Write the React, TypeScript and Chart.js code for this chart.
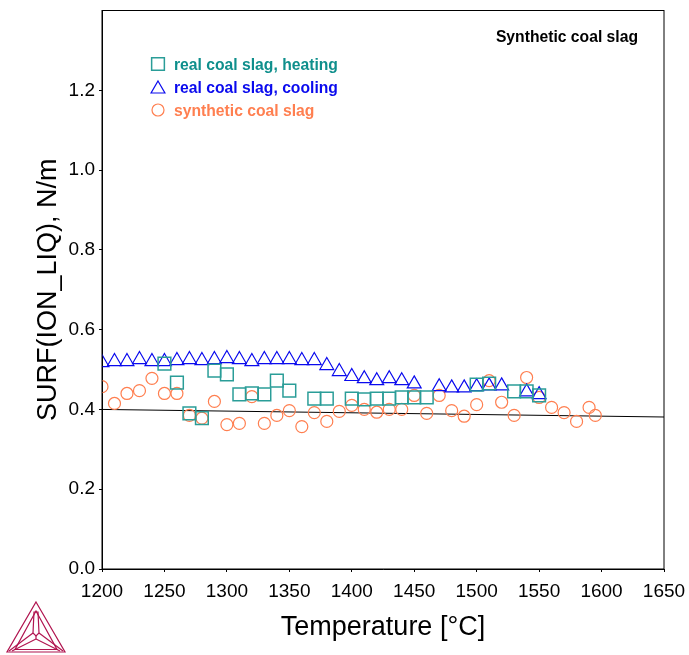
import React, { useEffect, useRef } from "react";
import { Chart, registerables } from "chart.js";

Chart.register(...registerables);

const heatingT = [1250, 1260, 1270, 1280, 1290, 1300, 1310, 1320, 1330, 1340, 1350, 1370, 1380, 1400, 1410, 1420, 1430, 1440, 1450, 1460, 1500, 1510, 1530, 1540, 1550];
const heatingS = [0.515, 0.467, 0.39, 0.378, 0.497, 0.488, 0.438, 0.44, 0.438, 0.472, 0.447, 0.427, 0.427, 0.427, 0.425, 0.427, 0.427, 0.43, 0.43, 0.43, 0.462, 0.465, 0.445, 0.445, 0.435];

const coolingT = [1200, 1210, 1220, 1230, 1240, 1250, 1260, 1270, 1280, 1290, 1300, 1310, 1320, 1330, 1340, 1350, 1360, 1370, 1380, 1390, 1400, 1410, 1420, 1430, 1440, 1450, 1470, 1480, 1490, 1500, 1510, 1520, 1540, 1550];
const coolingS = [0.5175, 0.52, 0.52, 0.525, 0.52, 0.52, 0.5225, 0.525, 0.5225, 0.525, 0.5275, 0.525, 0.52, 0.525, 0.525, 0.525, 0.5225, 0.5225, 0.51, 0.495, 0.4825, 0.477, 0.472, 0.477, 0.472, 0.464, 0.457, 0.454, 0.454, 0.457, 0.459, 0.459, 0.444, 0.437];

const syntheticT = [1200, 1210, 1220, 1230, 1240, 1250, 1260, 1270, 1280, 1290, 1300, 1310, 1320, 1330, 1340, 1350, 1360, 1370, 1380, 1390, 1400, 1410, 1420, 1430, 1440, 1450, 1460, 1470, 1480, 1490, 1500, 1510, 1520, 1530, 1540, 1550, 1560, 1570, 1580, 1590, 1595];
const syntheticS = [0.457, 0.415, 0.44, 0.447, 0.478, 0.44, 0.44, 0.385, 0.378, 0.42, 0.362, 0.365, 0.432, 0.365, 0.385, 0.397, 0.357, 0.392, 0.37, 0.395, 0.41, 0.4, 0.393, 0.4, 0.4, 0.435, 0.39, 0.435, 0.397, 0.383, 0.412, 0.472, 0.418, 0.385, 0.48, 0.43, 0.405, 0.392, 0.37, 0.405, 0.385];

const calcT = [1200, 1650];
const calcS = [0.4, 0.381];

const xTitle = "Temperature [°C]";
const yTitle = "SURF(ION_LIQ), N/m";
const note = "Synthetic coal slag";

const TEAL = "#2a9d98";
const TEAL_TEXT = "#0f8f8c";
const BLUE = "#0a0aee";
const CORAL = "#ff7f50";
const FONT = "'Liberation Sans', Arial, sans-serif";

const pts = (xs: number[], ys: number[]) => xs.map((x, i) => ({ x, y: ys[i] }));

const legendItems = [
  { dataset: 0, textColor: TEAL_TEXT, y: 65 },
  { dataset: 1, textColor: BLUE, y: 88 },
  { dataset: 2, textColor: CORAL, y: 111 },
];

const framePlugin = {
  id: "frame",
  afterDatasetsDraw(chart: any) {
    const { ctx, chartArea: a } = chart;
    ctx.save();
    ctx.strokeStyle = "#000";
    ctx.lineWidth = 1;
    ctx.strokeRect(a.left, a.top, a.right - a.left, a.bottom - a.top);
    ctx.restore();
  },
  afterDraw(chart: any) {
    const { ctx } = chart;
    ctx.save();
    ctx.font = `bold 15.7px ${FONT}`;
    ctx.textBaseline = "middle";
    ctx.fillStyle = "#000";
    ctx.textAlign = "right";
    ctx.fillText(note, 638, 38);
    ctx.textAlign = "left";
    legendItems.forEach((it) => {
      const ds = chart.data.datasets[it.dataset];
      ctx.fillStyle = it.textColor;
      ctx.font = `bold 15.7px ${FONT}`;
      ctx.fillText(ds.label, 174, it.y + 1);
      ctx.strokeStyle = ds.borderColor;
      ctx.lineWidth = ds.pointBorderWidth;
      ctx.beginPath();
      const cx = 158;
      const cy = it.y - 1;
      const r = ds.pointRadius;
      if (ds.pointStyle === "rect") {
        const s = r / Math.SQRT2;
        ctx.rect(cx - s, cy - s, 2 * s, 2 * s);
      } else if (ds.pointStyle === "triangle") {
        ctx.moveTo(cx, cy - r + 2);
        ctx.lineTo(cx + r * 0.866, cy + r / 2 + 2);
        ctx.lineTo(cx - r * 0.866, cy + r / 2 + 2);
        ctx.closePath();
      } else {
        ctx.arc(cx, cy, r, 0, Math.PI * 2);
      }
      ctx.stroke();
    });
    ctx.restore();
  },
};

function Logo() {
  const c = "#b0144f";
  return (
    <svg width={70} height={65} viewBox="0 0 70 65" style={{ position: "absolute", left: 0, top: 590 }}>
      <g fill="none" stroke={c} strokeWidth={1.2}>
        <polygon points="36,12 65,62 7,62" />
        <polygon points="36,21 57,59.5 15,59.5" />
        <polygon points="34,22 38,22 39,43 36,46 33,43" />
        <line x1="33" y1="43" x2="9" y2="61" />
        <line x1="36" y1="46" x2="36" y2="49" />
        <line x1="39" y1="43" x2="63" y2="61" />
        <line x1="36" y1="49" x2="12" y2="61" />
        <line x1="36" y1="49" x2="60" y2="61" />
      </g>
    </svg>
  );
}

export default function App() {
  const ref = useRef<HTMLCanvasElement>(null);
  useEffect(() => {
    const chart = new Chart(ref.current!, {
      type: "scatter",
      data: {
        datasets: [
          { label: "real coal slag, heating", data: pts(heatingT, heatingS), pointStyle: "rect", pointRadius: 9, pointBorderWidth: 1.5, borderColor: TEAL, backgroundColor: "rgba(0,0,0,0)", showLine: false },
          { label: "real coal slag, cooling", data: pts(coolingT, coolingS), pointStyle: "triangle", pointRadius: 8, pointBorderWidth: 1.2, borderColor: BLUE, backgroundColor: "rgba(0,0,0,0)", showLine: false },
          { label: "synthetic coal slag", data: pts(syntheticT, syntheticS), pointStyle: "circle", pointRadius: 6, pointBorderWidth: 1.2, borderColor: CORAL, backgroundColor: "rgba(0,0,0,0)", showLine: false },
          { label: "calculated", data: pts(calcT, calcS), pointRadius: 0, borderColor: "#000", borderWidth: 1, showLine: true },
        ],
      },
      options: {
        animation: false,
        responsive: false,
        layout: { padding: { left: 32, right: 25, top: 9, bottom: 11 } },
        plugins: { legend: { display: false }, tooltip: { enabled: false } },
        scales: {
          x: {
            type: "linear",
            min: 1200,
            max: 1650,
            afterFit: (s: any) => { s.height = 75; s.paddingLeft = 0; s.paddingRight = 0; },
            ticks: { stepSize: 50, maxRotation: 0, color: "#000", font: { family: FONT, size: 19 }, padding: 8, callback: (v: any) => String(v) },
            grid: { display: true, drawOnChartArea: false, drawTicks: true, tickLength: 3, color: "#000" },
            border: { display: true, color: "#000" },
            title: { display: true, text: xTitle, color: "#000", font: { family: FONT, size: 27 }, padding: { top: 4, bottom: 0 } },
          },
          y: {
            min: 0,
            max: 1.4,
            afterBuildTicks: (s: any) => { s.ticks = s.ticks.filter((t: any) => t.value < 1.39); },
            afterFit: (s: any) => { s.width = 70; s.paddingTop = 0; s.paddingBottom = 0; },
            ticks: { stepSize: 0.2, color: "#000", font: { family: FONT, size: 19 }, padding: 4, callback: (v: any) => Number(v).toFixed(1) },
            grid: { display: true, drawOnChartArea: false, drawTicks: true, tickLength: 3, color: "#000" },
            border: { display: true, color: "#000" },
            title: { display: true, text: yTitle, color: "#000", font: { family: FONT, size: 27 }, padding: { top: 0, bottom: 6 } },
          },
        },
      },
      plugins: [framePlugin],
    } as any);
    return () => chart.destroy();
  }, []);
  return (
    <div style={{ position: "absolute", left: 0, top: 0, width: 689, height: 655 }}>
      <canvas ref={ref} width={689} height={655} style={{ display: "block" }} />
      <Logo />
    </div>
  );
}
